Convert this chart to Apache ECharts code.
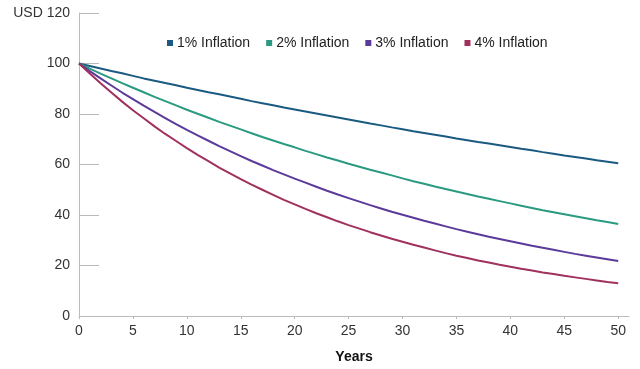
<!DOCTYPE html>
<html>
<head>
<meta charset="utf-8">
<script src="https://cdn.jsdelivr.net/npm/echarts@6/dist/echarts.min.js"></script>
<style>html,body{margin:0;padding:0;background:#fff}#c{width:640px;height:369px}</style>
</head>
<body>
<div id="c"></div>
<script>
const years = [0,1,2,3,4,5,6,7,8,9,10,11,12,13,14,15,16,17,18,19,20,21,22,23,24,25,26,27,28,29,30,31,32,33,34,35,36,37,38,39,40,41,42,43,44,45,46,47,48,49,50];
const inf1 = [100,99.0,98.0,97.0,96.1,95.1,94.1,93.2,92.3,91.4,90.4,89.5,88.6,87.8,86.9,86.0,85.1,84.3,83.5,82.6,81.8,81.0,80.2,79.4,78.6,77.8,77.0,76.2,75.5,74.7,74.0,73.2,72.5,71.8,71.1,70.3,69.6,68.9,68.3,67.6,66.9,66.2,65.6,64.9,64.3,63.6,63.0,62.4,61.7,61.1,60.5];
const inf2 = [100,98.0,96.0,94.1,92.2,90.4,88.6,86.8,85.1,83.4,81.7,80.1,78.5,76.9,75.4,73.9,72.4,70.9,69.5,68.1,66.8,65.4,64.1,62.8,61.6,60.3,59.1,57.9,56.8,55.7,54.5,53.4,52.4,51.3,50.3,49.3,48.3,47.3,46.4,45.5,44.6,43.7,42.8,41.9,41.1,40.3,39.5,38.7,37.9,37.2,36.4];
const inf3 = [100,97.0,94.1,91.3,88.5,85.9,83.3,80.8,78.4,76.0,73.7,71.5,69.4,67.3,65.3,63.3,61.4,59.6,57.8,56.1,54.4,52.8,51.2,49.6,48.1,46.7,45.3,43.9,42.6,41.3,40.1,38.9,37.7,36.6,35.5,34.4,33.4,32.4,31.4,30.5,29.6,28.7,27.8,27.0,26.2,25.4,24.6,23.9,23.2,22.5,21.8];
const inf4 = [100,96.0,92.2,88.5,84.9,81.5,78.3,75.1,72.1,69.3,66.5,63.8,61.3,58.8,56.5,54.2,52.0,50.0,48.0,46.0,44.2,42.4,40.7,39.1,37.5,36.0,34.6,33.2,31.9,30.6,29.4,28.2,27.1,26.0,24.9,23.9,23.0,22.0,21.2,20.3,19.5,18.7,18.0,17.2,16.6,15.9,15.3,14.7,14.1,13.5,13.0];
const seriesNames = ['1% Inflation','2% Inflation','3% Inflation','4% Inflation'];
const xTicks = [0,5,10,15,20,25,30,35,40,45,50];
const colors = ['#1b5a80','#2a9a80','#5b3a9a','#a0305e'];
const allData = [inf1, inf2, inf3, inf4];
const FONT = '"Liberation Sans", Arial, Helvetica, sans-serif';

const chart = echarts.init(document.getElementById('c'));
chart.setOption({
  animation: false,
  backgroundColor: '#fff',
  textStyle: {fontFamily: FONT},
  grid: {left: 79, right: 11, top: 13, bottom: 53, containLabel: false, outerBoundsMode: 'none'},
  legend: {
    left: 162, top: 31,
    itemWidth: 6, itemHeight: 6, itemGap: 16,
    icon: 'rect',
    textStyle: {fontFamily: FONT, fontSize: 14, color: '#222', padding: [0,0,0,-1]},
    data: seriesNames
  },
  xAxis: {
    type: 'value', min: 0, max: 51,
    name: 'Years', nameLocation: 'middle', nameGap: 34,
    nameTextStyle: {fontFamily: FONT, fontSize: 14, fontWeight: 'bold', color: '#111'},
    axisLine: {lineStyle: {color: '#bbbbbb', width: 1}},
    axisTick: {show: true, length: 3, lineStyle: {color: '#bbbbbb'}, customValues: xTicks},
    axisLabel: {fontFamily: FONT, fontSize: 14, color: '#333', margin: 8, customValues: xTicks},
    splitLine: {show: false}
  },
  yAxis: {
    type: 'value', min: 0, max: 120, interval: 20,
    axisLine: {show: true, lineStyle: {color: '#bbbbbb', width: 1}},
    axisTick: {show: true, inside: true, length: 20, lineStyle: {color: '#bbbbbb'}},
    axisLabel: {fontFamily: FONT, fontSize: 14, color: '#333', margin: 9,
      formatter: v => v === 120 ? 'USD 120' : String(v)},
    splitLine: {show: false}
  },
  series: seriesNames.map((n, i) => ({
    name: n, type: 'line', showSymbol: false, symbol: 'none',
    data: years.map((y, k) => [y, allData[i][k]]),
    lineStyle: {color: colors[i], width: 2},
    itemStyle: {color: colors[i]}
  }))
});
</script>
</body>
</html>
